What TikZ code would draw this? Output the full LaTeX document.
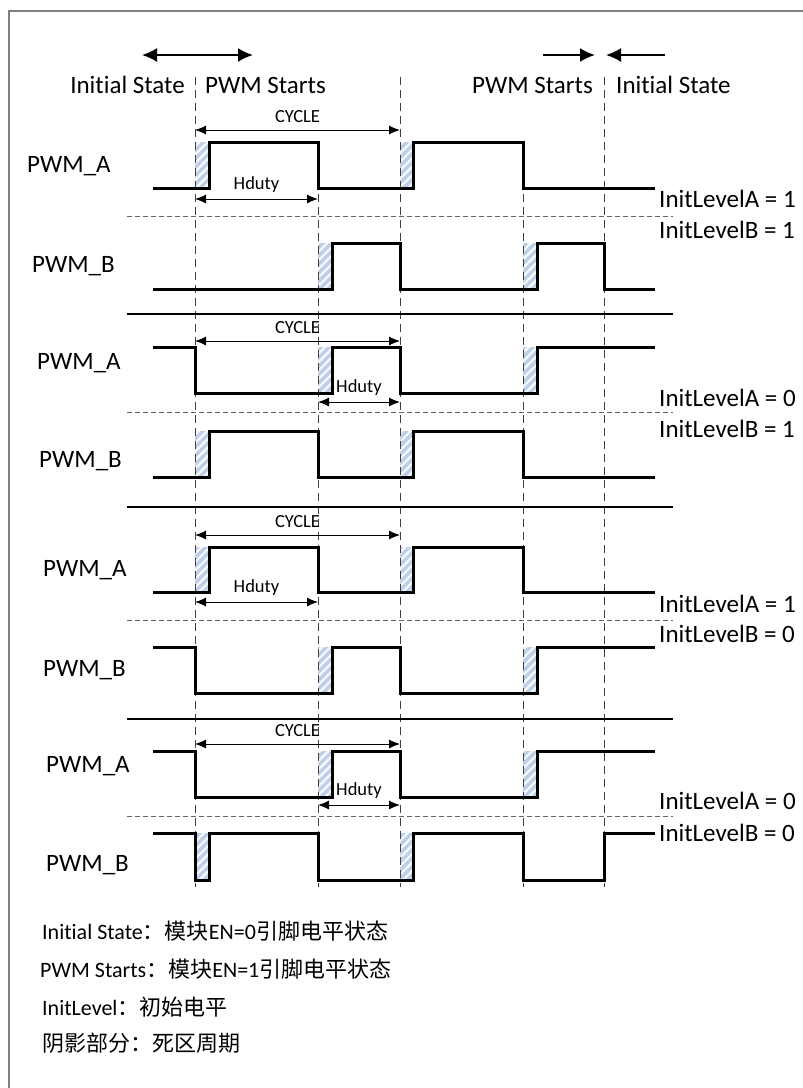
\documentclass[tikz,border=0pt]{standalone}
\usepackage{fontspec}
\setmainfont{Carlito}[Ligatures=NoCommon]
\newfontfamily\cjk{Noto Sans CJK SC}
\usetikzlibrary{arrows.meta,patterns.meta}
\definecolor{deadblue}{RGB}{190,207,232}
\definecolor{framegray}{RGB}{128,128,128}
\tikzset{
    %Define style for the signal traces
    trace/.style={
           line width=3pt,
           line join=miter},
    %Define style for dead time regions
    dead/.style={
           fill=deadblue,
           postaction={pattern={Lines[angle=45,distance=6pt,line width=2.2pt]},
                       pattern color=white!90!deadblue}},
    % vertical and horizontal guide lines
    guide/.style={dash pattern=on 8pt off 5pt, line width=0.9pt, black!75},
    sepline/.style={dash pattern=on 5pt off 3pt, line width=0.8pt, black!60},
    solidsep/.style={line width=1.3pt},
    % Define arrow styles
    dimarrow/.style={<->, >={Latex[length=11pt,width=9pt]}, line width=1pt},
    toparrow/.style={>={Latex[length=15pt,width=14pt]}, line width=2pt},
    %Define text styles
    lbl/.style={font=\fontsize{25}{30}\selectfont, inner sep=0pt},
    dimlbl/.style={font=\fontsize{18.5}{22}\selectfont, inner sep=0pt},
    note/.style={font=\fontsize{22}{26}\selectfont, inner sep=0pt, anchor=base west}
}
\begin{document}
\begin{tikzpicture}[x=1pt,y=-1pt]
\useasboundingbox (0,0) rectangle (803,1088);
% frame
\draw[framegray, line width=1.6pt] (9,1100) -- (9,11) -- (815,11);

% dead time
\foreach \xa/\ya/\yb in {195/142/188, 400/142/188, 318/243/289, 523/243/289,
    318/347/393, 523/347/393, 195/431/477, 400/431/477,
    195/547/592, 400/547/592, 318/647/693, 523/647/693,
    318/751/797, 523/751/797, 195/833/880, 400/833/880}
  \fill[dead] (\xa,\ya) rectangle (\xa+14,\yb);

% guides
\foreach \x/\ytop in {195/77, 318/142, 400/77, 523/142, 604/77}
  \draw[guide] (\x,\ytop) -- (\x,887);
\foreach \y in {216,412,620,816}
  \draw[sepline] (127,\y) -- (673,\y);
\foreach \y in {314,507,719}
  \draw[solidsep] (127,\y) -- (673,\y);

% signals
\draw[trace] (153,188) -- (209,188) -- (209,142) -- (318,142) -- (318,188) -- (413,188)
  -- (413,142) -- (523,142) -- (523,188) -- (655,188);
\draw[trace] (153,289) -- (332,289) -- (332,243) -- (400,243) -- (400,289) -- (537,289)
  -- (537,243) -- (604,243) -- (604,289) -- (655,289);
\draw[trace] (153,347) -- (195,347) -- (195,393) -- (332,393) -- (332,347) -- (400,347)
  -- (400,393) -- (537,393) -- (537,347) -- (655,347);
\draw[trace] (153,477) -- (209,477) -- (209,431) -- (318,431) -- (318,477) -- (413,477)
  -- (413,431) -- (523,431) -- (523,477) -- (655,477);
\draw[trace] (153,592) -- (209,592) -- (209,547) -- (318,547) -- (318,592) -- (413,592)
  -- (413,547) -- (523,547) -- (523,592) -- (655,592);
\draw[trace] (153,647) -- (195,647) -- (195,693) -- (332,693) -- (332,647) -- (400,647)
  -- (400,693) -- (537,693) -- (537,647) -- (655,647);
\draw[trace] (153,751) -- (195,751) -- (195,797) -- (332,797) -- (332,751) -- (400,751)
  -- (400,797) -- (537,797) -- (537,751) -- (655,751);
\draw[trace] (153,833) -- (195,833) -- (195,880) -- (209,880) -- (209,833) -- (318,833)
  -- (318,880) -- (413,880) -- (413,833) -- (523,833) -- (523,880) -- (604,880)
  -- (604,833) -- (655,833);

% top arrows
\coordinate (isl) at (142,55);
\coordinate (isr) at (253,55);
\draw[toparrow, <->] (isl) -- (isr);
\coordinate (psa) at (543,55);
\coordinate (psb) at (595,55);
\draw[toparrow, ->] (psa) -- (psb);
\coordinate (ira) at (665,55);
\coordinate (irb) at (606,55);
\draw[toparrow, ->] (ira) -- (irb);

\node[lbl, anchor=base east] (init1) at (185,93) {Initial State};
\node[lbl, anchor=base west] (start1) at (205,93) {PWM Starts};
\node[lbl, anchor=base east] (start2) at (593,93) {PWM Starts};
\node[lbl, anchor=base west] (init2) at (616,93) {Initial State};

% cycle and duty
\foreach \n/\y/\ha/\hb/\hy in {1/130/195/318/199, 2/341/318/400/402,
    3/535/195/318/602, 4/744/318/400/805} {
  \coordinate (cyl\n) at (195,\y);
  \coordinate (cyr\n) at (400,\y);
  \draw[dimarrow] (cyl\n) -- node[dimlbl, anchor=base, yshift=8pt] (cyc\n) {CYCLE} (cyr\n);
  \coordinate (hdl\n) at (\ha,\hy);
  \coordinate (hdr\n) at (\hb,\hy);
  \draw[dimarrow] (hdl\n) -- node[dimlbl, anchor=base, yshift=10pt] (hd\n) {Hduty} (hdr\n);
}

% signal names
\foreach \n/\xa/\ya/\xb/\yb in {1/27/172/32/272, 2/37/369/39/467,
    3/43/576/43/676, 4/46/772/46/871} {
  \node[lbl, anchor=base west] (pa\n) at (\xa,\ya) {PWM\_A};
  \node[lbl, anchor=base west] (pb\n) at (\xb,\yb) {PWM\_B};
}

% init levels
\foreach \n/\ya/\la/\yb/\lb in {1/207/1/238/1, 2/406/0/437/1,
    3/612/1/642/0, 4/809/0/841/0} {
  \node[lbl, anchor=base west] (ila\n) at (659,\ya) {InitLevelA = \la};
  \node[lbl, anchor=base west] (ilb\n) at (659,\yb) {InitLevelB = \lb};
}

% notes
\node[note] (n1) at (42,939) {Initial State{\cjk ：模块}EN=0{\cjk 引脚电平状态}};
\node[note] (n2) at (40,977) {PWM Starts{\cjk ：模块}EN=1{\cjk 引脚电平状态}};
\node[note] (n3) at (42,1015) {InitLevel{\cjk ：初始电平}};
\node[note] (n4) at (42,1051) {\cjk 阴影部分：死区周期};
\end{tikzpicture}
\end{document}
